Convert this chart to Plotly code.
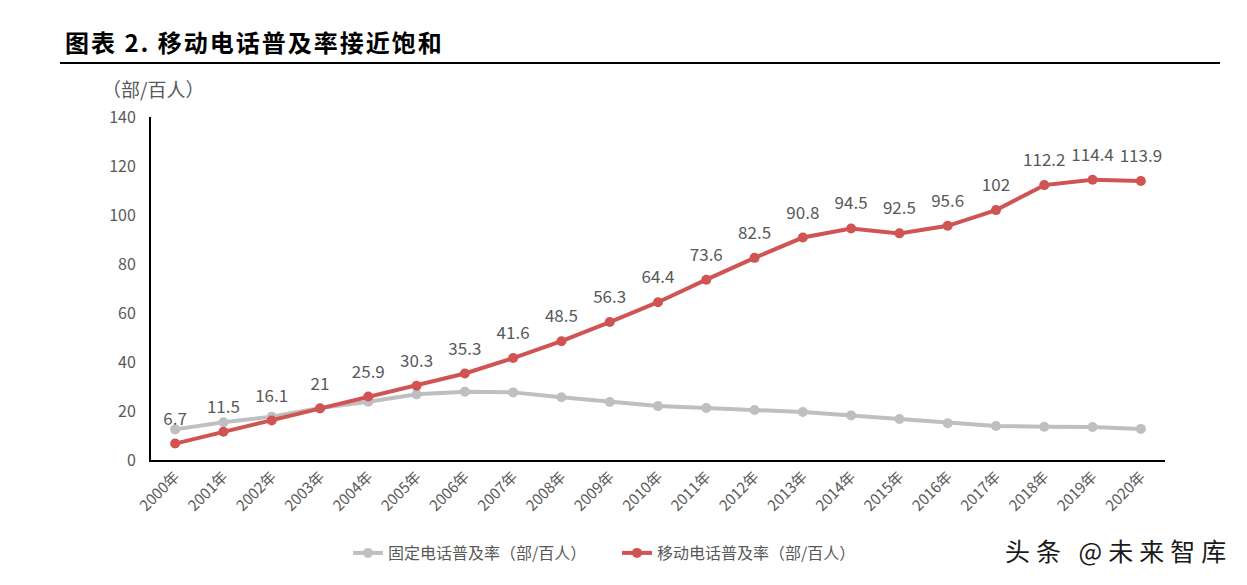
import plotly.graph_objects as go

years = [f"{y}年" for y in range(2000, 2021)]
mobile = [6.7, 11.5, 16.1, 21, 25.9, 30.3, 35.3, 41.6, 48.5, 56.3, 64.4, 73.6, 82.5, 90.8, 94.5, 92.5, 95.6, 102, 112.2, 114.4, 113.9]
fixed = [12.5, 15.4, 17.7, 21.2, 23.8, 26.8, 27.9, 27.6, 25.6, 23.7, 22.0, 21.2, 20.4, 19.6, 18.2, 16.7, 15.0, 13.9, 13.6, 13.5, 12.7]
y_ticks = [0, 20, 40, 60, 80, 100, 120, 140]

FONT = "Noto Sans CJK SC"
xs = list(range(len(years)))

L, R, T, B = 151, 1165, 117, 460
PW, PH = R - L, B - T


def px(x):
    return (x - L) / PW


def py(y):
    return (B - y) / PH


fig = go.Figure()
fig.add_trace(go.Scatter(
    x=xs, y=fixed, mode="lines+markers", name="固定电话普及率（部/百人）",
    line=dict(color="#BFBFBF", width=4), marker=dict(size=10, color="#BFBFBF"),
))
fig.add_trace(go.Scatter(
    x=xs, y=mobile, mode="lines+markers", name="移动电话普及率（部/百人）",
    line=dict(color="#D05454", width=4), marker=dict(size=10, color="#D05454"),
))
# data labels for the mobile series (invisible larger markers push text upward)
fig.add_trace(go.Scatter(
    x=xs, y=mobile, mode="markers+text", showlegend=False, hoverinfo="skip",
    marker=dict(size=22, color="rgba(0,0,0,0)"),
    text=[str(v) for v in mobile], textposition="top center",
    textfont=dict(size=17, color="#595959", family=FONT),
))

fig.update_layout(
    width=1247, height=585,
    margin=dict(l=L, r=1247 - R, t=T, b=585 - B),
    plot_bgcolor="white", paper_bgcolor="white",
    font=dict(family=FONT, color="#595959"),
    showlegend=True,
    legend=dict(orientation="h", x=px(617), xanchor="center", y=py(553), yanchor="middle",
                font=dict(size=16, color="#595959", family=FONT), itemwidth=30,
                entrywidth=224, traceorder="normal"),
    xaxis=dict(
        range=[-0.5, 20.5], tickmode="array", tickvals=xs, ticktext=years,
        tickangle=-45, showline=True, linecolor="black", linewidth=2,
        showgrid=False, zeroline=False, ticks="",
        tickfont=dict(size=15, color="#595959", family=FONT),
    ),
    yaxis=dict(
        range=[0, 140], tickmode="array", tickvals=y_ticks,
        showline=True, linecolor="black", linewidth=2,
        showgrid=False, zeroline=False, ticks="", ticklabelstandoff=10,
        tickfont=dict(size=16, color="#595959", family=FONT),
    ),
)

fig.add_annotation(
    text='<span style="letter-spacing:2px"><b>图表 2. 移动电话普及率接近饱和</b></span>',
    xref="paper", yref="paper",
    x=px(63), y=py(41), xanchor="left", yanchor="middle",
    showarrow=False, font=dict(size=24, color="black", family=FONT),
)
fig.add_shape(
    type="line", xref="paper", yref="paper",
    x0=px(60), x1=px(1220), y0=py(63), y1=py(63),
    line=dict(color="black", width=2),
)
fig.add_annotation(
    text="（部/百人）", xref="paper", yref="paper",
    x=px(100), y=py(88), xanchor="left", yanchor="middle",
    showarrow=False, font=dict(size=19, color="#595959", family=FONT),
)
fig.add_annotation(
    text='<span style="letter-spacing:6px">头条 @未来智库</span>', xref="paper", yref="paper",
    x=px(1234), y=py(550), xanchor="right", yanchor="middle",
    showarrow=False, font=dict(size=25, color="#1a1a1a", family=FONT),
)

fig.write_html("out.html", config={"displayModeBar": False},
               post_script="document.body.style.margin='0';")
